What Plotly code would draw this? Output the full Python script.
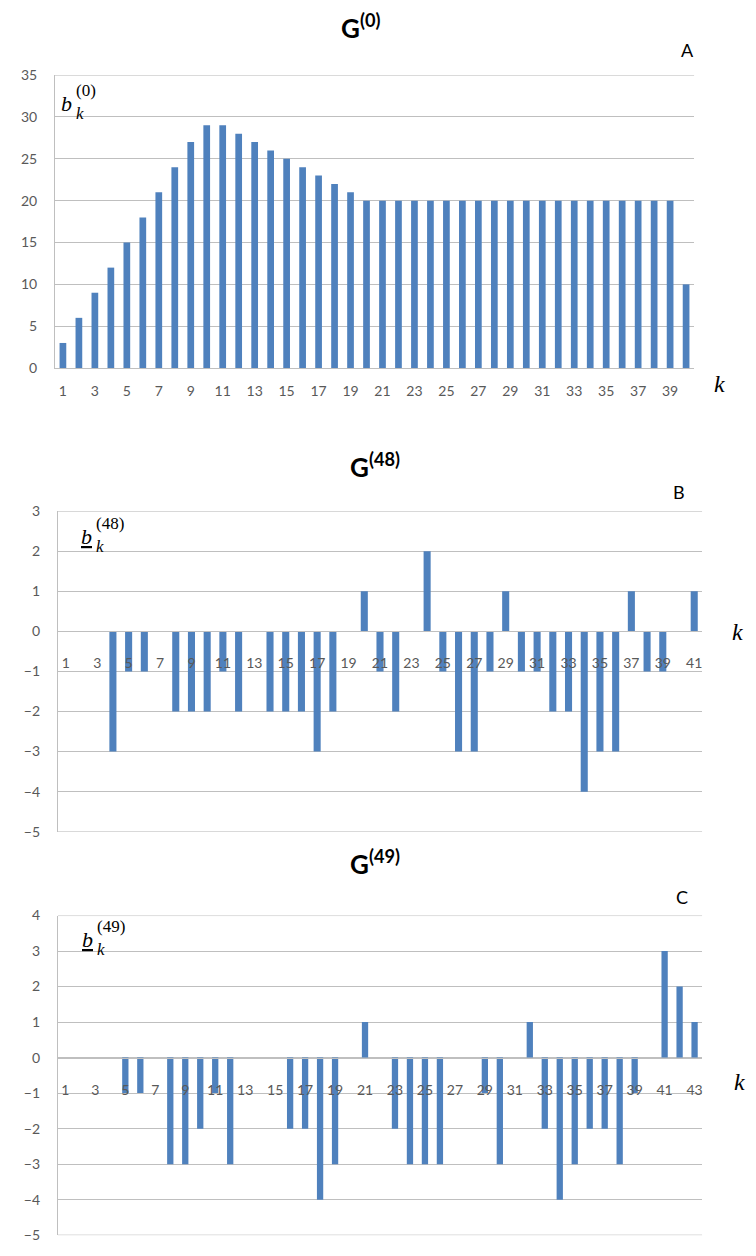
import plotly.graph_objects as go

W, H = 756, 1256

# ---------------- data ----------------
k_a = list(range(1, 41))
b0 = [3, 6, 9, 12, 15, 18, 21, 24, 27, 29, 29, 28, 27, 26, 25, 24, 23, 22, 21, 20,
      20, 20, 20, 20, 20, 20, 20, 20, 20, 20, 20, 20, 20, 20, 20, 20, 20, 20, 20, 10]

k_b = list(range(1, 42))
b48 = [0, 0, 0, -3, -1, -1, 0, -2, -2, -2,
       -1, -2, 0, -2, -2, -2, -3, -2, 0, 1,
       -1, -2, 0, 2, -1, -3, -3, -1, 1, -1,
       -1, -2, -2, -4, -3, -3, 1, -1, -1, 0, 1]

k_c = list(range(1, 44))
b49 = [0, 0, 0, 0, -1, -1, 0, -3, -3, -2,
       -1, -3, 0, 0, 0, -2, -2, -4, -3, 0,
       1, 0, -2, -3, -3, -3, 0, 0, -1, -3,
       0, 1, -2, -4, -3, -2, -2, -3, -1, 0, 3, 2, 1]

ticks_a = k_a[::2]
ticks_b = k_b[::2]
ticks_c = k_c[::2]

titles = ["G<sup>(0)</sup>", "G<sup>(48)</sup>", "G<sup>(49)</sup>"]
panel_letters = ["A", "B", "C"]
sups = ["(0)", "(48)", "(49)"]

# ---------------- style ----------------
BAR = "#4F81BD"
GRID = "#BFBFBF"
TICK = "#595959"
FONT = "Lato"
SERIF = "Liberation Serif"


def px(x):
    return x / W


def py(y):
    return 1 - y / H


# pixel boxes for each panel: (left, right, top, bottom)
boxes = [(55, 695, 67, 364), (58, 703, 509, 834), (58, 703, 919, 1243)]
yranges = [[0, 35], [-5, 3], [-5, 4]]
ydticks = [5, 1, 1]
standoffs = [10, 19, 20]

fig = go.Figure()

datasets = [(k_a, b0, ticks_a), (k_b, b48, ticks_b), (k_c, b49, ticks_c)]
widths = [0.42, 0.45, 0.42]
shapes = []

for i, (ks, vals, tks) in enumerate(datasets):
    n = "" if i == 0 else str(i + 1)
    fig.add_trace(go.Bar(x=ks, y=vals, marker_color=BAR, marker_line_width=0,
                         width=widths[i], xaxis="x" + n, yaxis="y" + n,
                         showlegend=False, hoverinfo="x+y"))
    l, r, t, b = boxes[i]
    ydom = [py(b), py(t)]
    y0, y1 = yranges[i]
    zero_pos = ydom[0] + (0 - y0) / (y1 - y0) * (ydom[1] - ydom[0])
    xa = dict(domain=[px(l), px(r)], range=[0.5, len(ks) + 0.5],
              tickmode="array", tickvals=tks, ticktext=[str(v) for v in tks],
              showgrid=False, zeroline=False, showline=True, linecolor=GRID,
              linewidth=1, ticks="", tickfont=dict(family=FONT, size=14, color=TICK),
              ticklabelstandoff=standoffs[i], fixedrange=True)
    if i == 0:
        xa["anchor"] = "y"
    else:
        xa["anchor"] = "free"
        xa["position"] = zero_pos
    ya = dict(domain=ydom, range=[y0, y1], dtick=ydticks[i], tick0=0,
              showgrid=True, gridcolor=GRID, gridwidth=1, zeroline=False,
              showline=True, linecolor=GRID, linewidth=1, ticks="",
              tickfont=dict(family=FONT, size=14, color=TICK),
              ticklabelstandoff=14, anchor="x" + n, fixedrange=True)
    fig.update_layout(**{"xaxis" + n: xa, "yaxis" + n: ya})
    # edge gridlines (top, and bottom for panels with negative values)
    edges = [y1] if i == 0 else [y0, y1]
    for ev in edges:
        shapes.append(dict(type="line", xref="x" + n + " domain", yref="y" + n,
                           x0=0, x1=1, y0=ev, y1=ev, layer="below",
                           line=dict(color=GRID, width=1)))

annotations = []
title_xy = [(361, 18), (375, 463), (375, 865)]
letter_xy = [(688, 42), (680, 490), (683, 900)]
kxy = [(720, 380), (738, 632), (740, 1088)]
b_xy = [(67, 96), (87, 535), (88, 943)]

for i in range(3):
    tx, ty = title_xy[i]
    annotations.append(dict(text="<b>" + titles[i] + "</b>", x=px(tx), y=py(ty),
                            xref="paper", yref="paper", showarrow=False,
                            font=dict(family=FONT, size=26, color="#000000"),
                            xanchor="center", yanchor="middle"))
    lx, ly = letter_xy[i]
    annotations.append(dict(text=panel_letters[i], x=px(lx), y=py(ly),
                            xref="paper", yref="paper", showarrow=False,
                            font=dict(family=FONT, size=18, color="#000000"),
                            xanchor="center", yanchor="middle"))
    kx, ky = kxy[i]
    annotations.append(dict(text="<i>k</i>", x=px(kx), y=py(ky),
                            xref="paper", yref="paper", showarrow=False,
                            font=dict(family=SERIF, size=24, color="#000000"),
                            xanchor="center", yanchor="middle"))
    bx, by = b_xy[i]
    bfont = dict(family=SERIF, size=22, color="#000000")
    if i > 0:
        bfont["lineposition"] = "under"
    annotations.append(dict(text="<i>b</i>", x=px(bx), y=py(by),
                            xref="paper", yref="paper", showarrow=False,
                            font=bfont, xanchor="center", yanchor="middle"))
    annotations.append(dict(text="<i>k</i>", x=px(bx + 7), y=py(by + 10),
                            xref="paper", yref="paper", showarrow=False,
                            font=dict(family=SERIF, size=17, color="#000000"),
                            xanchor="left", yanchor="middle"))
    annotations.append(dict(text=sups[i], x=px(bx + 7), y=py(by - 13),
                            xref="paper", yref="paper", showarrow=False,
                            font=dict(family=SERIF, size=17, color="#000000"),
                            xanchor="left", yanchor="middle"))

fig.update_layout(width=W, height=H, margin=dict(l=0, r=0, t=0, b=0),
                  paper_bgcolor="white", plot_bgcolor="white",
                  annotations=annotations, shapes=shapes, bargap=0.5)

fig.write_html("out.html")
